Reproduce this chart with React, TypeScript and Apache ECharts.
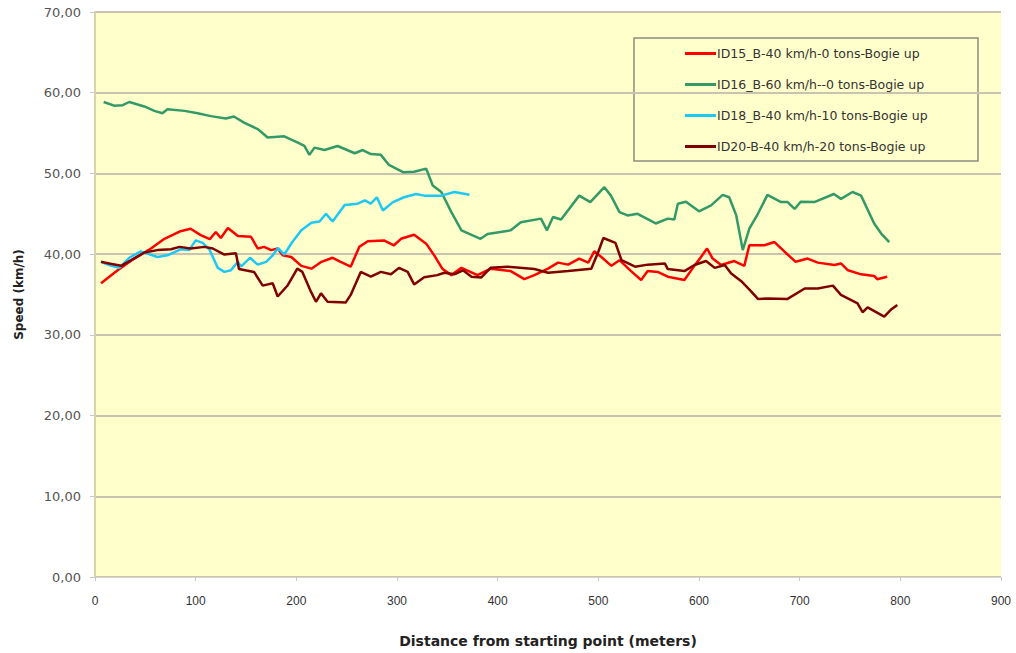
import React, { useEffect, useRef } from "react";
import * as echarts from "echarts";

const seriesNames = [
  "ID15_B-40 km/h-0 tons-Bogie up",
  "ID16_B-60 km/h--0 tons-Bogie up",
  "ID18_B-40 km/h-10 tons-Bogie up",
  "ID20-B-40 km/h-20 tons-Bogie up",
];
const seriesColors = ["#FF0000", "#339966", "#1EC8F5", "#800000"];

const id15: [number, number][] = [
  [6, 36.4], [22.5, 38.0], [39, 39.45], [55.6, 40.7], [69, 41.9], [84, 42.8], [95, 43.15],
  [105, 42.35], [114, 41.85], [120, 42.75], [125, 42.0], [132, 43.25], [142, 42.25],
  [155, 42.15], [161.6, 40.7], [168, 40.9], [175, 40.5], [181.5, 40.7], [186.5, 39.85],
  [195, 39.65], [205, 38.55], [215, 38.2], [225, 39.05], [236, 39.55], [244, 39.05],
  [254, 38.45], [262.5, 40.9], [271, 41.6], [287, 41.7], [297, 41.1], [304, 41.9],
  [317, 42.4], [329, 41.3], [337, 39.85], [345, 38.2], [354, 37.4], [364, 38.3],
  [380, 37.4], [393, 38.2], [413, 37.9], [426.5, 36.9], [436.5, 37.4], [450, 38.2],
  [460, 38.95], [470, 38.7], [481, 39.45], [490, 38.95], [496, 40.35], [503, 39.65],
  [513, 38.55], [521, 39.25], [532.5, 37.9], [542.5, 36.8], [549, 37.9], [559, 37.8],
  [569, 37.2], [585.5, 36.8], [594, 38.3], [602, 39.65], [608, 40.7], [613.6, 39.45],
  [622, 38.65], [635, 39.15], [645, 38.55], [650, 41.1], [665, 41.1], [675, 41.5],
  [685, 40.3], [696, 39.05], [708, 39.45], [718, 38.95], [734.5, 38.65], [741, 38.85],
  [748, 38.0], [761, 37.5], [774, 37.3], [777, 36.9], [787, 37.2],
];

const id16: [number, number][] = [
  [8.6, 58.85], [19, 58.4], [27.5, 58.45], [34, 58.85], [49, 58.3], [59, 57.75],
  [67, 57.45], [72, 57.95], [89, 57.75], [102, 57.45], [115, 57.1], [130, 56.8],
  [138, 57.05], [148, 56.3], [161.6, 55.5], [171.5, 54.45], [188, 54.6], [201, 53.85],
  [208, 53.4], [213, 52.3], [218, 53.2], [228, 52.9], [241, 53.4], [258, 52.5],
  [266, 52.9], [274, 52.4], [284, 52.3], [292, 51.05], [306, 50.15], [317, 50.2],
  [329, 50.6], [335.5, 48.5], [344, 47.7], [354, 45.2], [364, 42.95], [383, 41.9],
  [390, 42.5], [413, 42.95], [423, 43.95], [443, 44.4], [449, 42.95], [455, 44.6],
  [463, 44.3], [481, 47.25], [492, 46.45], [506, 48.3], [512.5, 47.25], [521, 45.2],
  [529, 44.8], [539, 45.0], [557, 43.8], [569, 44.4], [575.5, 44.3], [579, 46.25],
  [587, 46.5], [600, 45.3], [612, 46.05], [623.5, 47.35], [630, 47.05], [637, 44.8],
  [643.5, 40.5], [650, 43.15], [658.5, 45.0], [668, 47.35], [681.5, 46.45], [688, 46.45],
  [695, 45.6], [701, 46.5], [714.5, 46.45], [734, 47.45], [741, 46.85], [752.5, 47.7],
  [761, 47.25], [774, 43.8], [781, 42.55], [789, 41.5],
];

const id18: [number, number][] = [
  [6, 39.05], [14, 38.65], [24, 38.3], [34, 39.55], [45.5, 40.35], [62, 39.65],
  [72, 39.85], [85, 40.6], [93.5, 40.5], [100, 41.7], [107, 41.4], [113.5, 40.6],
  [122, 38.3], [128.5, 37.8], [135, 38.0], [142, 39.05], [145, 38.45], [154, 39.55],
  [161.6, 38.7], [170, 39.05], [176.5, 39.85], [182, 40.75], [188, 39.95], [196, 41.5],
  [205, 42.95], [215, 43.9], [223, 44.05], [229.5, 45.0], [236, 44.05], [248, 46.1],
  [261, 46.25], [268, 46.65], [274, 46.25], [280, 47.05], [286, 45.4], [296, 46.45],
  [307, 47.05], [319, 47.45], [327, 47.25], [344, 47.25], [357, 47.7], [372, 47.35],
];

const id20: [number, number][] = [
  [6, 39.05], [14, 38.85], [26, 38.55], [36, 39.25], [49, 40.2], [62, 40.5],
  [75.5, 40.6], [84, 40.9], [95, 40.7], [108.6, 40.9], [117, 40.7], [128.5, 39.95],
  [140, 40.1], [143, 38.15], [158, 37.8], [166.6, 36.1], [176.5, 36.4], [181.5, 34.75],
  [191.5, 36.15], [201, 38.2], [206, 37.8], [214.5, 35.35], [219.5, 34.1], [224.5, 35.15],
  [231, 34.1], [249, 34.0], [254, 34.95], [264, 37.8], [274, 37.2], [284, 37.8],
  [294, 37.5], [302, 38.3], [310.6, 37.8], [317, 36.25], [327, 37.15], [340, 37.4],
  [347, 37.7], [357, 37.5], [365.5, 38.0], [374, 37.2], [383.5, 37.1], [393, 38.3],
  [410, 38.45], [436.5, 38.15], [450, 37.7], [470, 37.9], [493, 38.2], [500, 40.3],
  [505, 42.0], [517, 41.4], [523, 39.25], [536.5, 38.45], [549, 38.7], [566, 38.85],
  [569, 38.15], [585.5, 37.9], [595.5, 38.65], [607, 39.15], [615.6, 38.3], [625.5, 38.65],
  [632, 37.6], [642, 36.65], [652, 35.35], [658.5, 34.45], [668, 34.5], [688, 34.45],
  [705, 35.75], [718, 35.75], [733, 36.1], [741, 34.95], [757.5, 33.9], [762.5, 32.8],
  [767.5, 33.4], [784, 32.25], [790.5, 33.1], [797, 33.7],
];

const seriesData = [id15, id16, id18, id20];

const xTitle = "Distance from starting point (meters)";
const yTitle = "Speed (km/h)";

export default function App() {
  const ref = useRef<HTMLDivElement>(null);
  useEffect(() => {
    if (!ref.current) return;
    const chart = echarts.init(ref.current, undefined, { renderer: "svg" });
    chart.setOption({
      animation: false,
      backgroundColor: "#FFFFFF",
      grid: {
        left: 95,
        right: 15,
        top: 12,
        bottom: 73,
        show: true,
        backgroundColor: "#FFFFCC",
        borderWidth: 0,
      },
      xAxis: {
        type: "value",
        min: 0,
        max: 900,
        interval: 100,
        name: xTitle,
        nameLocation: "middle",
        nameGap: 57,
        nameTextStyle: { fontFamily: "DejaVu Sans", fontWeight: "bold", fontSize: 14, color: "#222" },
        axisLine: { show: true, lineStyle: { color: "#D8D8D0", width: 1 } },
        axisTick: { show: true, inside: false, length: 4, lineStyle: { color: "#C8C8C8" } },
        axisLabel: { margin: 18, fontFamily: "Liberation Sans Narrow, Liberation Sans", fontSize: 12, color: "#333" },
        splitLine: { show: false },
      },
      yAxis: {
        type: "value",
        min: 0,
        max: 70,
        interval: 10,
        name: yTitle,
        nameLocation: "middle",
        nameGap: 70,
        nameRotate: 90,
        nameTextStyle: { fontFamily: "DejaVu Sans", fontWeight: "bold", fontSize: 12, color: "#222" },
        axisLine: { show: true, lineStyle: { color: "#D8D4A8", width: 2 } },
        axisTick: { show: true, length: 5, lineStyle: { color: "#C8C8C8" } },
        axisLabel: {
          margin: 14,
          fontFamily: "DejaVu Sans",
          fontSize: 13,
          color: "#555",
          formatter: (v: number) => v.toFixed(2).replace(".", ","),
        },
        splitLine: { show: true, lineStyle: { color: "#C8C4B0", width: 2 } },
      },
      legend: {
        orient: "vertical",
        left: 680,
        top: 42,
        icon: "rect",
        itemWidth: 31,
        itemHeight: 3,
        itemGap: 18,
        data: seriesNames,
        textStyle: { fontFamily: "DejaVu Sans", fontSize: 12.5, color: "#333", padding: [0, 0, 0, -4] },
      },
      graphic: [
        {
          type: "rect",
          shape: { x: 634, y: 38, width: 344, height: 123 },
          style: { fill: "#FFFFCC", stroke: "#8C8C80", lineWidth: 1.5 },
          z: 0,
          silent: true,
        },
      ],
      series: seriesData.map((d, i) => ({
        name: seriesNames[i],
        type: "line",
        data: d,
        showSymbol: false,
        symbol: "none",
        color: seriesColors[i],
        lineStyle: { width: 2.5, color: seriesColors[i] },
        z: 3,
      })),
    });
    return () => chart.dispose();
  }, []);
  return (
    <div
      ref={ref}
      style={{ position: "absolute", left: 0, top: 0, width: 1016, height: 653 }}
    />
  );
}
